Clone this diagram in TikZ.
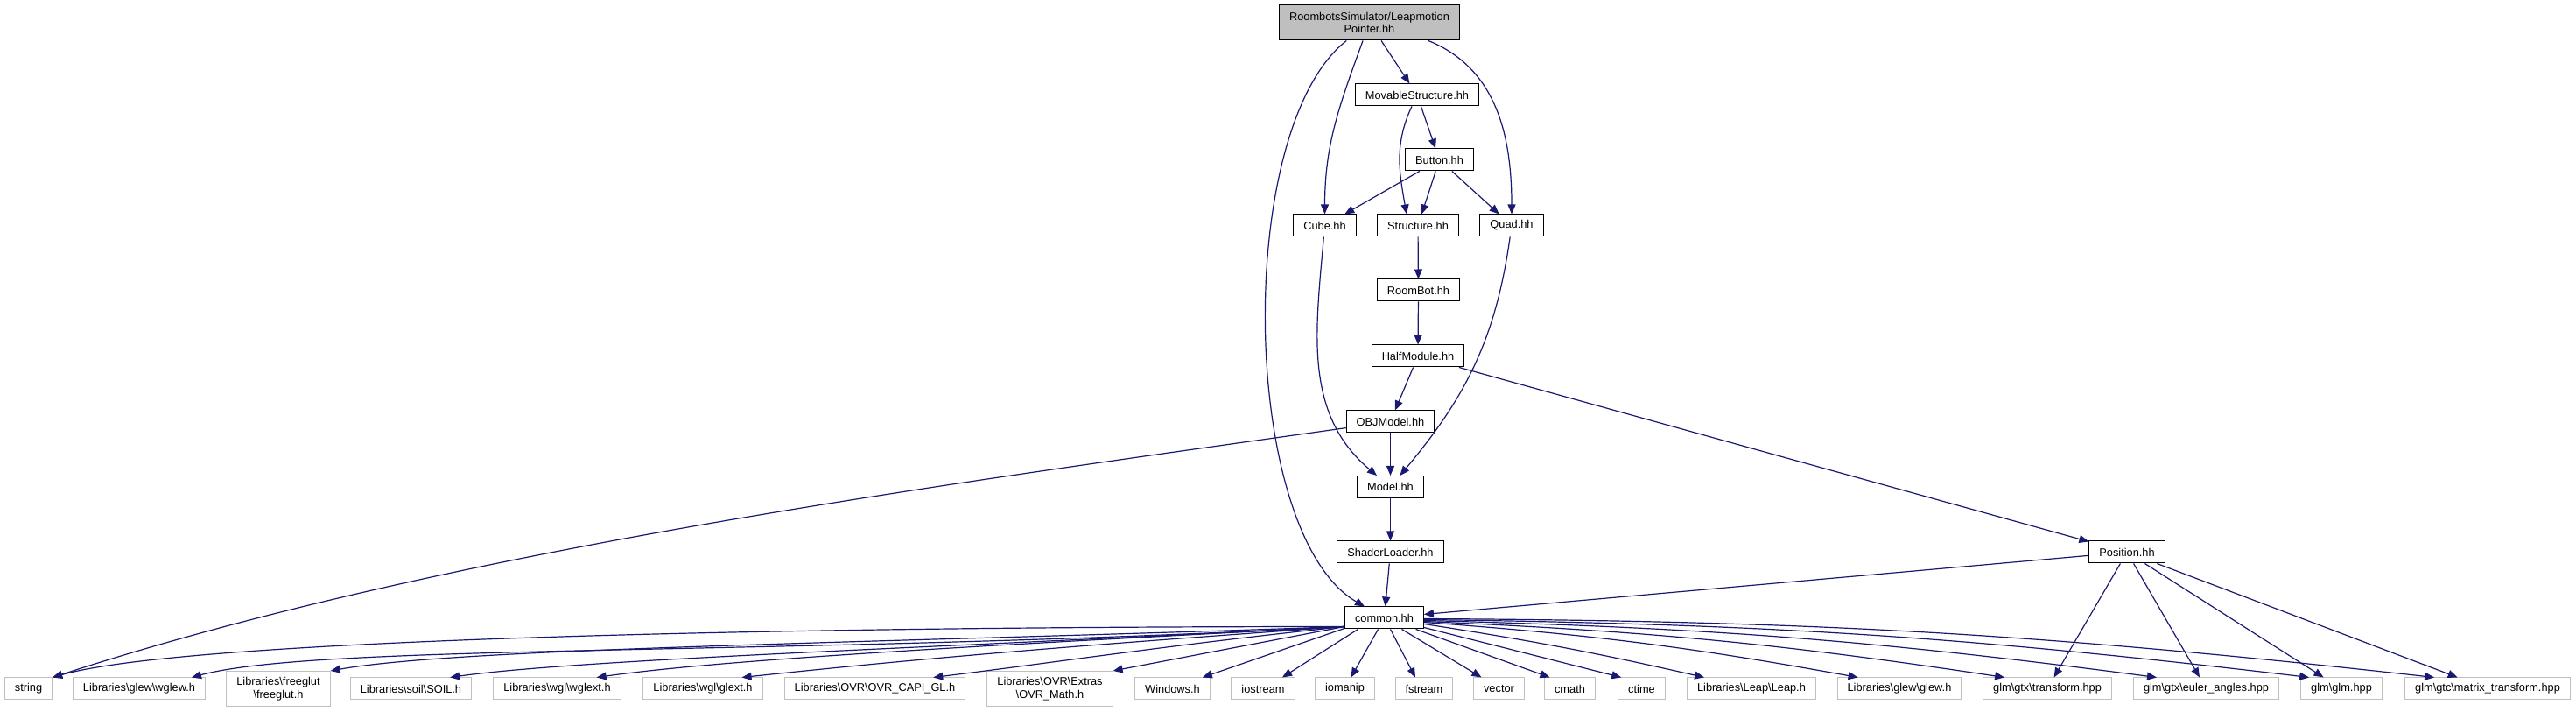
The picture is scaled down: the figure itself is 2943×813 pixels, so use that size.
\documentclass[tikz,border=0pt]{standalone}
\usepackage{fontspec}
\setmainfont{Liberation Sans}
\usetikzlibrary{arrows.meta}
\definecolor{edgeblue}{HTML}{191970}
\definecolor{sysgray}{HTML}{BFBFBF}
\definecolor{rootgray}{HTML}{BFBFBF}
\tikzset{
  hfile/.style={rectangle, draw=black, line width=0.25pt, fill=white,
    minimum height=6.25pt, inner xsep=2.875pt, inner ysep=0.5pt, align=center,
    font=\fontsize{3.2}{3.625}\selectfont},
  sysfile/.style={hfile, draw=sysgray},
  rootfile/.style={hfile, fill=rootgray, minimum height=10pt},
  inc/.style={-{Triangle[length=2.75pt,width=2.25pt]}, line width=0.3pt, draw=edgeblue},
  fan/.style n args={4}{out=#1, in=#2, out distance=#3, in distance=#4},
}
\newcommand{\psep}{\textbackslash}

\begin{document}
\begin{tikzpicture}[x=0.25pt, y=0.25pt]
    \useasboundingbox (0,0) rectangle (2943,813);

    \node[rootfile] (root) at (1564.5,787) {RoombotsSimulator/Leapmotion\\Pointer.hh};
    \node[hfile] (mov) at (1619,704.5) {MovableStructure.hh};
    \node[hfile] (button) at (1644.5,630.5) {Button.hh};
    \node[hfile] (cube) at (1513.5,555.5) {Cube.hh};
    \node[hfile] (struct) at (1620,555.5) {Structure.hh};
    \node[hfile] (quad) at (1727,555.5) {Quad.hh};
    \node[hfile] (roombot) at (1620.5,481.5) {RoomBot.hh};
    \node[hfile] (half) at (1620,406.5) {HalfModule.hh};
    \node[hfile] (objm) at (1588.5,331.5) {OBJModel.hh};
    \node[hfile] (model) at (1588.5,257) {Model.hh};
    \node[hfile] (shader) at (1588.5,182.5) {ShaderLoader.hh};
    \node[hfile] (common) at (1581.5,107.5) {common.hh};
    \node[hfile] (pos) at (2430,182.5) {Position.hh};

    \node[sysfile] (str) at (32.5,26.5) {string};
    \node[sysfile] (wglew) at (159,26.5) {Libraries\psep glew\psep wglew.h};
    \node[sysfile, minimum height=10pt] (freeglut) at (318,26.5) {Libraries\psep freeglut\\\psep freeglut.h};
    \node[sysfile] (soil) at (469.5,26.5) {Libraries\psep soil\psep SOIL.h};
    \node[sysfile] (wglext) at (636.5,26.5) {Libraries\psep wgl\psep wglext.h};
    \node[sysfile] (glext) at (803,26.5) {Libraries\psep wgl\psep glext.h};
    \node[sysfile] (capi) at (999.5,26.5) {Libraries\psep OVR\psep OVR\_CAPI\_GL.h};
    \node[sysfile, minimum height=10pt] (ovrmath) at (1199.5,26.5) {Libraries\psep OVR\psep Extras\\\psep OVR\_Math.h};
    \node[sysfile] (win) at (1339.5,26.5) {Windows.h};
    \node[sysfile] (iostr) at (1443,26.5) {iostream};
    \node[sysfile] (ioman) at (1536.5,26.5) {iomanip};
    \node[sysfile] (fstr) at (1627,26.5) {fstream};
    \node[sysfile] (vec) at (1712.5,26.5) {vector};
    \node[sysfile] (cmath) at (1793.5,26.5) {cmath};
    \node[sysfile] (ctime) at (1875.5,26.5) {ctime};
    \node[sysfile] (leap) at (2001,26.5) {Libraries\psep Leap\psep Leap.h};
    \node[sysfile] (glew) at (2170,26.5) {Libraries\psep glew\psep glew.h};
    \node[sysfile] (gtxtr) at (2339,26.5) {glm\psep gtx\psep transform.hpp};
    \node[sysfile] (euler) at (2520.5,26.5) {glm\psep gtx\psep euler\_angles.hpp};
    \node[sysfile] (glm) at (2675,26.5) {glm\psep glm.hpp};
    \node[sysfile] (gtcmat) at (2842,26.5) {glm\psep gtc\psep matrix\_transform.hpp};

    \draw[inc] (root) -- (mov);
    \draw[inc] (root) to[out=-110, in=90] (cube);
    \draw[inc] ([xshift=-9pt]root.south east) to[out=-22, in=90] (quad);
    \draw[inc] (root) to[out=-142, in=150, looseness=0.65] (common);
    \draw[inc] (mov) to[out=-115, in=100] ([xshift=-3.25pt]struct.north);
    \draw[inc] (mov) -- (button);
    \draw[inc] (button) -- (cube);
    \draw[inc] (button) -- (struct);
    \draw[inc] (button) -- (quad);
    \draw[inc] (cube) to[out=-95, in=140] (model);
    \draw[inc] (quad) to[out=-98, in=50] (model);
    \draw[inc] (struct) -- (roombot);
    \draw[inc] (roombot) -- (half);
    \draw[inc] (half) -- (objm);
    \draw[inc] (half) -- (pos);
    \draw[inc] (objm) -- (model);
    \draw[inc] (objm) to[out=188, in=18, looseness=0.8] (str.north east);
    \draw[inc] (model) -- (shader);
    \draw[inc] (shader) -- (common);
    \draw[inc] (pos) -- (common);
    \draw[inc] (pos) -- (gtxtr);
    \draw[inc] (pos) -- (euler);
    \draw[inc] (pos) -- (glm);
    \draw[inc] (pos) -- (gtcmat);

    \draw[inc] ([yshift=0.75pt]common.south west) to[fan={180}{16}{175pt}{37.5pt}] (str.north east);
    \draw[inc] ([yshift=0.75pt]common.south west) to[fan={183}{15}{162.5pt}{37.5pt}] ([xshift=-4pt]wglew.north east);
    \draw[inc] ([yshift=0.75pt]common.south west) to[fan={182}{10}{137.5pt}{37.5pt}] (freeglut.north east);
    \draw[inc] ([yshift=0.75pt]common.south west) to[fan={183}{8}{112.5pt}{37.5pt}] ([xshift=-6.25pt]soil.north east);
    \draw[inc] ([yshift=0.75pt]common.south west) to[fan={183}{8}{100pt}{37.5pt}] ([xshift=-7pt]wglext.north east);
    \draw[inc] ([yshift=0.75pt]common.south west) to[fan={184}{6}{87.5pt}{45pt}] ([xshift=-6pt]glext.north east);
    \draw[inc] ([yshift=0.75pt]common.south west) to[fan={186}{7}{50pt}{37.5pt}] ([xshift=-9.25pt]capi.north east);
    \draw[inc] ([yshift=0.75pt]common.south west) -- (ovrmath.north east);
    \draw[inc] ([yshift=0.25pt]common.south west) -- ([xshift=-2.25pt]win.north east);
    \draw[inc] ([xshift=-7.5pt]common.south) -- ([xshift=5.5pt]iostr.north);
    \draw[inc] ([xshift=-1.75pt]common.south) -- ([xshift=1.75pt]ioman.north);
    \draw[inc] ([xshift=1.75pt]common.south) -- ([xshift=-2.5pt]fstr.north);
    \draw[inc] ([xshift=5pt]common.south) -- ([xshift=-5pt]vec.north);
    \draw[inc] ([xshift=9pt]common.south) -- ([xshift=-5.75pt]cmath.north);
    \draw[inc] ([yshift=0.5pt]common.south east) -- ([xshift=1pt]ctime.north west);
    \draw[inc] ([yshift=-1.75pt]common.east) to[bend left=2] ([xshift=5pt]leap.north west);
    \draw[inc] ([yshift=-1.25pt]common.east) to[bend left=3] ([xshift=6pt]glew.north west);
    \draw[inc] ([yshift=-1pt]common.east) to[bend left=3] ([xshift=6.25pt]gtxtr.north west);
    \draw[inc] ([yshift=-0.75pt]common.east) to[bend left=3] ([xshift=6.75pt]euler.north west);
    \draw[inc] ([yshift=-0.5pt]common.east) to[bend left=3] ([xshift=2.5pt]glm.north west);
    \draw[inc] ([yshift=-0.25pt]common.east) to[bend left=3] ([xshift=8.5pt]gtcmat.north west);
\end{tikzpicture}
\end{document}
